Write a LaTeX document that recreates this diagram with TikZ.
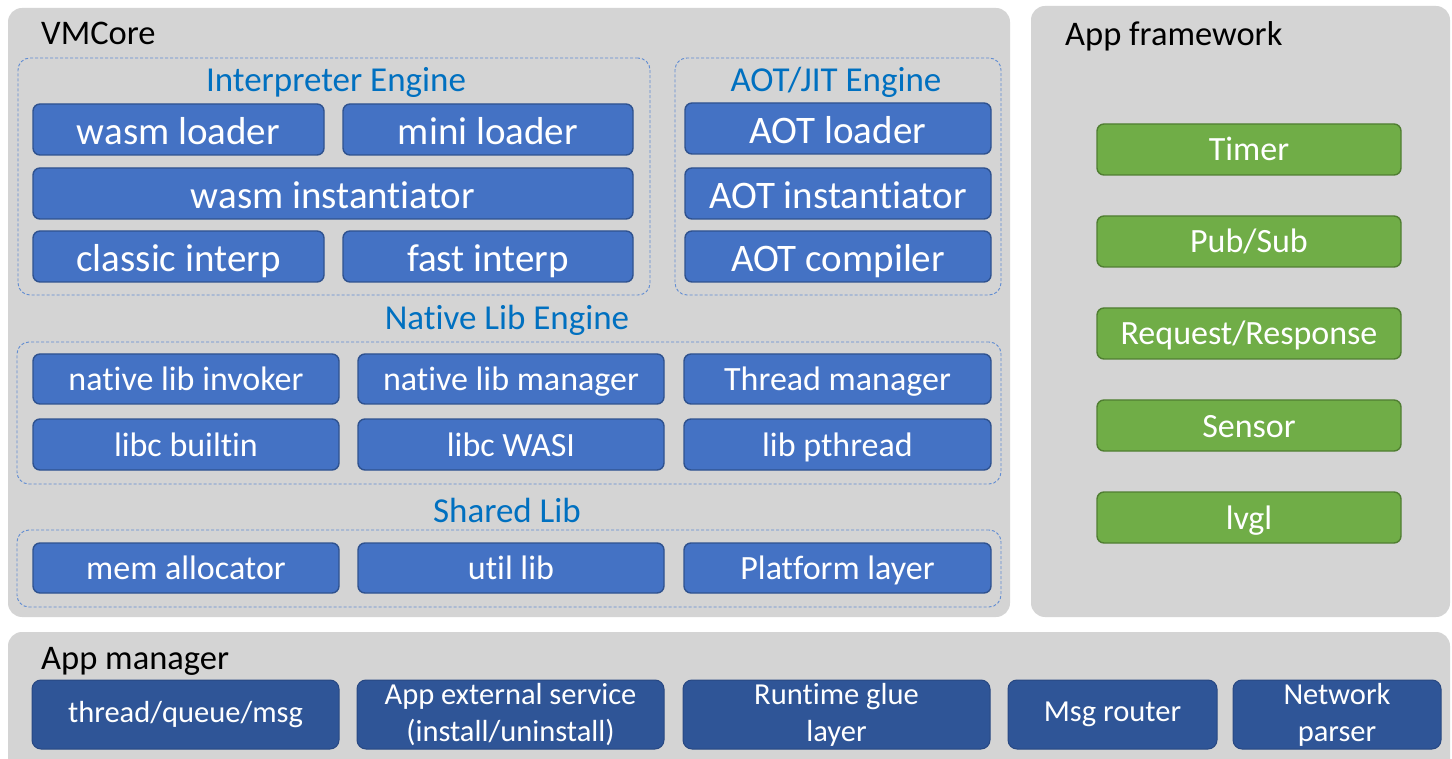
\documentclass[tikz,border=0pt]{standalone}
\usepackage{fontspec}
\setmainfont{Carlito}[Ligatures={NoCommon}]
\begin{document}
\begin{tikzpicture}[x=1pt,y=-1pt,
  panel/.style={fill=panelgray,draw=none,rounded corners=14pt,inner sep=0pt,outer sep=0pt},
  group/.style={draw=dashblue,dash pattern=on 3pt off 2pt,line width=0.9pt,rounded corners=12pt,inner sep=0pt},
  bluebox/.style={fill=boxblue,draw=boxblueline,line width=1.4pt,rounded corners=7pt,inner sep=0pt,text=white},
  darkbox/.style={fill=darkblue,draw=darkblueline,line width=1pt,rounded corners=9pt,inner sep=0pt,text=white,align=center},
  greenbox/.style={fill=boxgreen,draw=boxgreenline,line width=1.4pt,rounded corners=7pt,inner sep=0pt,text=white},
  big/.style={font=\fontsize{39}{44}\selectfont,text height=34pt,text depth=4pt},
  mid/.style={font=\fontsize{34}{38}\selectfont,text height=27pt,text depth=4pt},
  low/.style={font=\fontsize{30.5}{37}\selectfont},
  heading/.style={text=headblue,font=\fontsize{35}{40}\selectfont,inner sep=0pt,anchor=base},
  title/.style={text=black,font=\fontsize{34.5}{40}\selectfont,inner sep=0pt,anchor=base west}]
\definecolor{panelgray}{RGB}{212,212,212}
\definecolor{dashblue}{RGB}{96,140,210}
\definecolor{boxblue}{RGB}{68,114,196}
\definecolor{boxblueline}{RGB}{47,82,143}
\definecolor{darkblue}{RGB}{47,85,151}
\definecolor{darkblueline}{RGB}{40,72,130}
\definecolor{boxgreen}{RGB}{112,173,71}
\definecolor{boxgreenline}{RGB}{80,126,50}
\definecolor{headblue}{RGB}{0,112,192}

% box from its corners: name, x1, y1, x2, y2, style, text
\newcommand\blk[7]{%
  \node[#6,minimum width={#4-#2},minimum height={#5-#3}] (#1) at ({(#2+#4)/2},{(#3+#5)/2}) {#7};}

\clip (0,0) rectangle (1452,759);
\fill[white] (0,0) rectangle (1452,759);

% panels
\blk{vmcore}{8}{8}{1010}{617}{panel}{}
\blk{framework}{1031}{6}{1450}{617}{panel}{}
\blk{manager}{8}{632}{1450}{790}{panel}{}
\node[title] (vmtitle) at (41,45) {VMCore};
\node[title] (fwtitle) at (1065,46) {App framework};
\node[title] (amtitle) at (41,669) {App manager};

% dashed groups
\blk{interp}{18}{58}{650}{295}{group}{}
\blk{aot}{675}{58}{1001}{295}{group}{}
\blk{native}{17}{342}{1001}{484}{group}{}
\blk{shared}{17}{530}{1001}{607}{group}{}
\node[heading] (interph) at (336,92) {Interpreter Engine};
\node[heading] (aoth) at (836,92) {AOT/JIT Engine};
\node[heading] (nativeh) at (507,330) {Native Lib Engine};
\node[heading] (sharedh) at (507,522) {Shared Lib};

% interpreter engine
\blk{wasmloader}{33}{104}{324}{155}{bluebox,big}{wasm loader}
\blk{miniloader}{343}{104}{633}{155}{bluebox,big}{mini loader}
\blk{wasminst}{33}{168}{633}{219}{bluebox,big}{wasm instantiator}
\blk{classic}{33}{231}{324}{282}{bluebox,big}{classic interp}
\blk{fast}{343}{231}{633}{282}{bluebox,big}{fast interp}

% AOT/JIT engine
\blk{aotloader}{685}{103}{991}{154}{bluebox,big}{AOT loader}
\blk{aotinst}{685}{168}{991}{219}{bluebox,big}{AOT instantiator}
\blk{aotcomp}{685}{231}{991}{282}{bluebox,big}{AOT compiler}

% native lib engine
\blk{invoker}{33}{354}{339}{404}{bluebox,mid}{native lib invoker}
\blk{libmgr}{358}{354}{664}{404}{bluebox,mid}{native lib manager}
\blk{thrmgr}{684}{354}{991}{404}{bluebox,mid}{Thread manager}
\blk{builtin}{33}{419}{339}{470}{bluebox,mid}{libc builtin}
\blk{wasi}{358}{419}{664}{470}{bluebox,mid}{libc WASI}
\blk{pthread}{684}{419}{991}{470}{bluebox,mid}{lib pthread}

% shared lib
\blk{memalloc}{33}{543}{339}{593}{bluebox,mid}{mem allocator}
\blk{utillib}{358}{543}{664}{593}{bluebox,mid}{util lib}
\blk{platform}{684}{543}{991}{593}{bluebox,mid}{Platform layer}

% app framework
\blk{timer}{1097}{124}{1401}{175}{greenbox,mid}{Timer}
\blk{pubsub}{1097}{216}{1401}{267}{greenbox,mid}{Pub/Sub}
\blk{reqresp}{1097}{308}{1401}{359}{greenbox,mid}{Request/Response}
\blk{sensor}{1097}{400}{1401}{451}{greenbox,mid}{Sensor}
\blk{lvgl}{1097}{492}{1401}{543}{greenbox,mid}{lvgl}

% app manager
\blk{tqm}{32}{680}{339}{749}{darkbox,low}{thread/queue/msg}
\blk{extsvc}{357}{680}{664}{749}{darkbox,low}{App external service\\(install/uninstall)}
\blk{glue}{683}{680}{990}{749}{darkbox,low}{Runtime glue\\layer}
\blk{router}{1008}{680}{1217}{749}{darkbox,low}{Msg router}
\blk{netparser}{1233}{680}{1441}{749}{darkbox,low}{Network\\parser}
\end{tikzpicture}
\end{document}
